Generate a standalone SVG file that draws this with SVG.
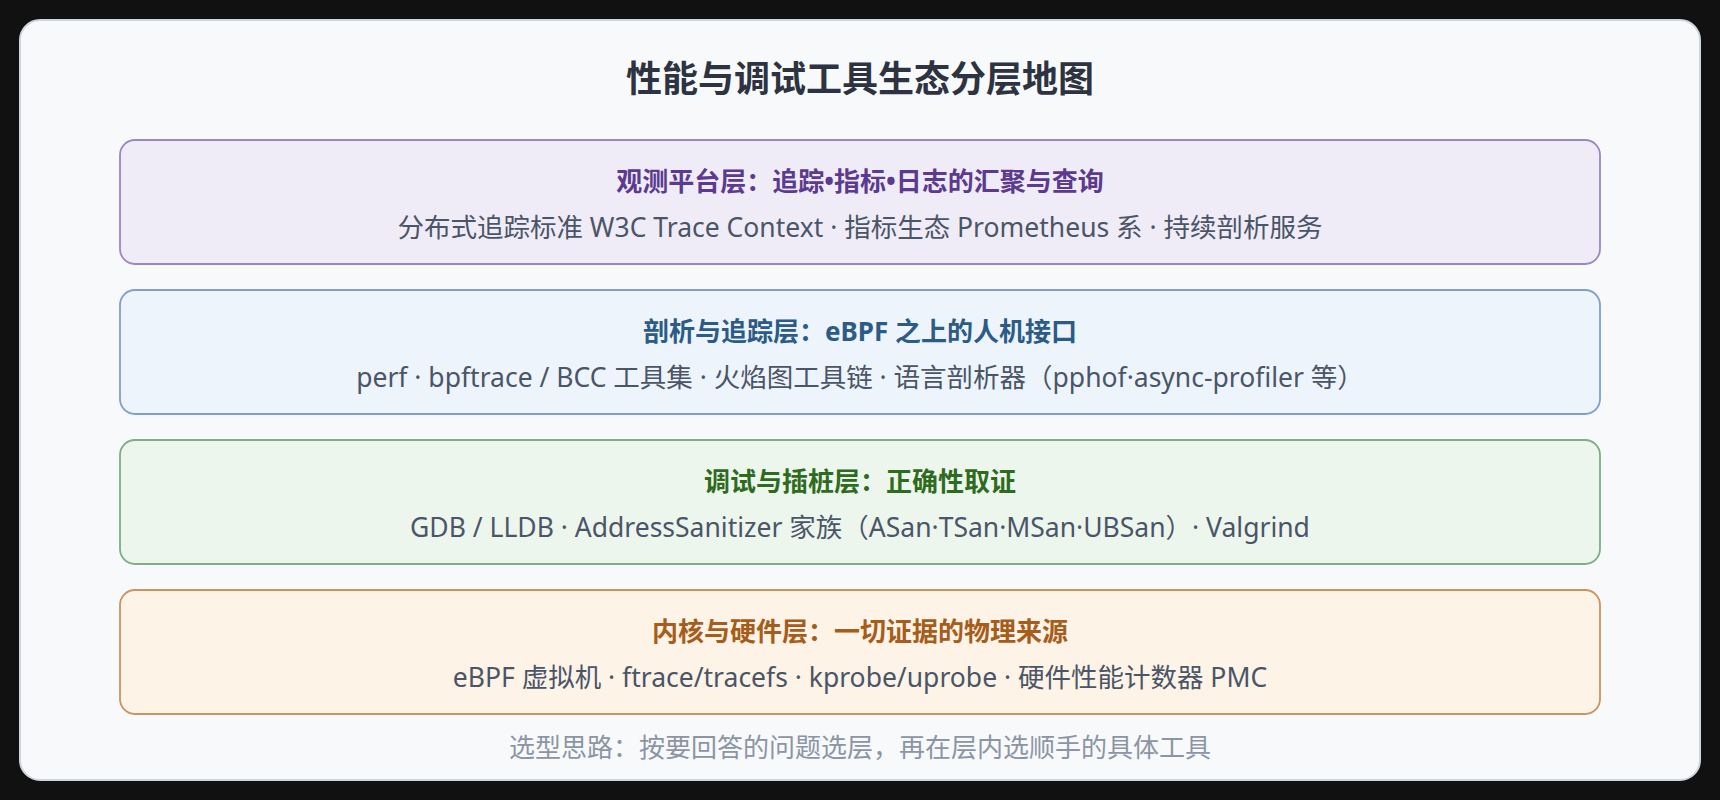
<svg xmlns="http://www.w3.org/2000/svg" width="1720" height="800" viewBox="0 0 1720 800">
  <style>
    text { font-family: "Noto Sans", "Noto Sans CJK SC", sans-serif; text-anchor: middle; text-spacing-trim: space-all; }
    .title { font-size: 36px; font-weight: 700; fill: #2d3340; }
    .lt { font-size: 26px; font-weight: 700; }
    .ls { font-size: 26.5px; fill: #4a5568; }
    .foot { font-size: 26px; fill: #8b95a5; }
    .layer { stroke-width: 1.8; }
  </style>
  <rect x="0" y="0" width="1720" height="800" fill="#111111"/>
  <rect x="20" y="20" width="1680" height="760" rx="20" ry="20" fill="#f8f9fb" stroke="#cdd5df" stroke-width="2"/>
  <text class="title" x="860" y="92">性能与调试工具生态分层地图</text>

  <g id="layer-platform">
    <rect class="layer" x="120" y="140" width="1480" height="124" rx="15" ry="15" fill="#f0ecf7" stroke="#9b86c6"/>
    <text class="lt" x="860" y="191" fill="#5b3a8f">观测平台层：追踪•指标•日志的汇聚与查询</text>
    <text class="ls" x="860" y="237">分布式追踪标准 W3C Trace Context · 指标生态 Prometheus 系 · 持续剖析服务</text>
  </g>

  <g id="layer-profiling">
    <rect class="layer" x="120" y="290" width="1480" height="124" rx="15" ry="15" fill="#edf4fc" stroke="#7d9fcf"/>
    <text class="lt" x="860" y="341" fill="#2b5b86">剖析与追踪层：eBPF 之上的人机接口</text>
    <text class="ls" x="860" y="387">perf · bpftrace / BCC 工具集 · 火焰图工具链 · 语言剖析器（pphof·async-profiler 等）</text>
  </g>

  <g id="layer-debug">
    <rect class="layer" x="120" y="440" width="1480" height="124" rx="15" ry="15" fill="#edf6ed" stroke="#7dae85"/>
    <text class="lt" x="860" y="491" fill="#2e6b1e">调试与插桩层：正确性取证</text>
    <text class="ls" x="860" y="537">GDB / LLDB · AddressSanitizer 家族（ASan·TSan·MSan·UBSan）· Valgrind</text>
  </g>

  <g id="layer-kernel">
    <rect class="layer" x="120" y="590" width="1480" height="124" rx="15" ry="15" fill="#fdf3e7" stroke="#c99460"/>
    <text class="lt" x="860" y="641" fill="#a65c1a">内核与硬件层：一切证据的物理来源</text>
    <text class="ls" x="860" y="687">eBPF 虚拟机 · ftrace/tracefs · kprobe/uprobe · 硬件性能计数器 PMC</text>
  </g>

  <g id="connectors"></g>

  <text class="foot" x="860" y="757">选型思路：按要回答的问题选层，再在层内选顺手的具体工具</text>
</svg>
